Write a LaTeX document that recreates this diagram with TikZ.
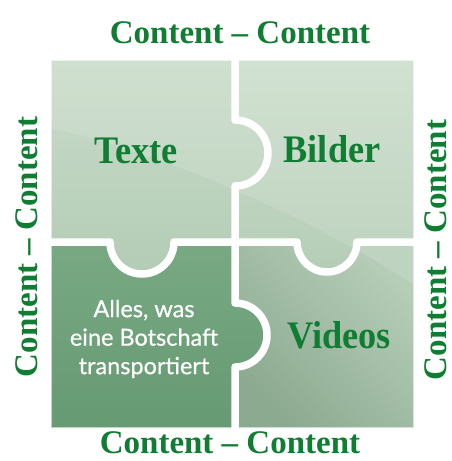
\documentclass[tikz,border=0pt]{standalone}
\usepackage{fontspec}
\setmainfont{Liberation Serif}
\newfontfamily\whitesans[FakeBold=0.6]{Lato}
\definecolor{txtgreen}{HTML}{0F7D32}
\definecolor{tlA}{HTML}{CADCCA}
\definecolor{tlB}{HTML}{B3CCB5}
\definecolor{trA}{HTML}{CCDECC}
\definecolor{trB}{HTML}{B5CDB7}
\definecolor{blA}{HTML}{78A983}
\definecolor{blB}{HTML}{669A72}
\definecolor{brA}{HTML}{B6CDB8}
\definecolor{brB}{HTML}{8CAA90}
\tikzset{
  outer/.style={font=\fontsize{33}{40}\selectfont\bfseries, text=txtgreen, inner sep=0pt},
  inner/.style={font=\fontsize{39}{44}\selectfont\bfseries, text=txtgreen, inner sep=0pt, xscale=0.93},
  msg/.style={font=\whitesans\fontsize{23.5}{28.5}\selectfont, text=white, align=center, inner sep=0pt},
  seam/.style={draw=white, line width=7.5pt, line join=round},
}
\begin{document}
\begin{tikzpicture}[x=1pt,y=-1pt]
\useasboundingbox (0,0) rectangle (452,461);
% pieces
\path[top color=tlA, bottom color=tlB]
  (51,60) -- (235,60) -- (235,120) arc[start angle=-90,end angle=90,radius=33]
  -- (235,242) -- (174,242) arc[start angle=0,end angle=180,radius=32]
  -- (51,242) -- cycle;
\path[top color=trA, bottom color=trB]
  (235,60) -- (414,60) -- (414,242) -- (357,242)
  arc[start angle=0,end angle=180,radius=30] -- (235,242) -- (235,186)
  arc[start angle=90,end angle=-90,radius=33] -- cycle;
\path[top color=blA, bottom color=blB]
  (51,242) -- (110,242) arc[start angle=180,end angle=0,radius=32]
  -- (235,242) -- (235,303) arc[start angle=-90,end angle=90,radius=32]
  -- (235,428) -- (51,428) -- cycle;
\path[left color=brA, right color=brB, shading angle=-45]
  (235,242) -- (297,242) arc[start angle=180,end angle=0,radius=30]
  -- (414,242) -- (414,428) -- (235,428) -- (235,367)
  arc[start angle=90,end angle=-90,radius=32] -- cycle;
% glossy highlight
\begin{scope}
  \clip (51,60) rectangle (414,428);
  \fill[white, opacity=0.12] (51,60) -- (51,128) .. controls (150,150) and (300,210) .. (414,285) -- (414,60) -- cycle;
\end{scope}
% seams
\draw[seam] (235,58) -- (235,120) arc[start angle=-90,end angle=90,radius=33] -- (235,242);
\draw[seam] (49,242) -- (110,242) arc[start angle=180,end angle=0,radius=32]
  -- (297,242) arc[start angle=180,end angle=0,radius=30] -- (416,242);
\draw[seam] (235,242) -- (235,303) arc[start angle=-90,end angle=90,radius=32] -- (235,430);
\draw[white, opacity=0.6, line width=1.2pt] (51,60) rectangle (414,428);
% texts
\node[inner, anchor=base] (texte) at (136,163) {Texte};
\node[inner, anchor=base] (bilder) at (332,162) {Bilder};
\node[inner, anchor=base] (videos) at (339,348) {Videos};
\node[msg] (alles) at (144,339) {Alles, was\\eine Botschaft\\transportiert};
\node[outer, anchor=base] (top) at (240,43) {Content – Content};
\node[outer, anchor=base] (bottom) at (230,453) {Content – Content};
\node[outer, anchor=base, rotate=90] (left) at (37,247) {Content – Content};
\node[outer, anchor=base, rotate=90] (right) at (446,250) {Content – Content};
\end{tikzpicture}
\end{document}
